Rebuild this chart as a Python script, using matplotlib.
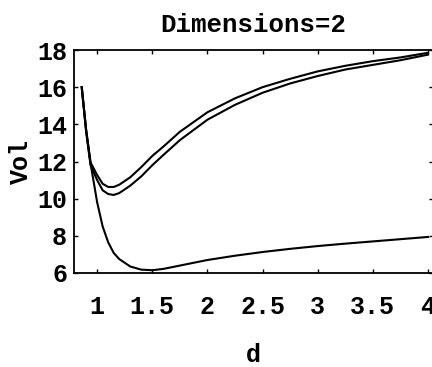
import matplotlib
matplotlib.use('Agg')
import matplotlib.pyplot as plt

# values
d = [0.86, 0.9, 0.94, 1.0, 1.05, 1.1, 1.15, 1.2, 1.3, 1.4, 1.5, 1.6, 1.75,
     2.0, 2.25, 2.5, 2.75, 3.0, 3.25, 3.5, 3.75, 4.0]
vol_outer = [16.0, 13.7, 11.95, 11.27, 10.8, 10.63, 10.63, 10.75, 11.15, 11.7,
             12.3, 12.8, 13.6, 14.65, 15.4, 16.0, 16.45, 16.85, 17.15, 17.4,
             17.6, 17.85]
vol_inner = [16.0, 13.6, 11.8, 11.0, 10.45, 10.25, 10.2, 10.3, 10.7, 11.2,
             11.8, 12.35, 13.15, 14.25, 15.05, 15.7, 16.2, 16.6, 16.95, 17.2,
             17.45, 17.75]
vol_lower = [16.0, 13.7, 11.9, 9.8, 8.5, 7.65, 7.08, 6.75, 6.35, 6.18, 6.15,
             6.22, 6.4, 6.7, 6.93, 7.13, 7.3, 7.45, 7.58, 7.7, 7.82, 7.94]

x_ticks = [1, 1.5, 2, 2.5, 3, 3.5, 4]
y_ticks = [6, 8, 10, 12, 14, 16, 18]

plt.rcParams['font.family'] = ['Liberation Mono', 'DejaVu Sans Mono']
plt.rcParams['font.weight'] = 'bold'

fig = plt.figure(figsize=(4.32, 3.67), dpi=100)
ax = fig.add_axes([74 / 432, 1 - 273 / 367, 359 / 432, 223 / 367])

for vals in (vol_outer, vol_inner, vol_lower):
    ax.plot(d, vals, color='black', linewidth=1.5)

ax.set_xlim(0.79, 4.045)
ax.set_ylim(6, 18)
ax.set_xticks(x_ticks)
ax.set_xticklabels(['1', '1.5', '2', '2.5', '3', '3.5', '4'])
ax.set_yticks(y_ticks)

ax.tick_params(direction='in', length=3, width=1, top=True, right=True,
               labelsize=18)
ax.tick_params(axis='x', pad=16)
ax.tick_params(axis='y', pad=5)
for s in ax.spines.values():
    s.set_linewidth(1.3)

ax.set_title('Dimensions=2', fontsize=18.5, pad=13, fontweight='bold')
ax.set_xlabel('d', fontsize=18, labelpad=17, fontweight='bold')
ax.set_ylabel('Vol', fontsize=18, labelpad=3, fontweight='bold')

fig.savefig('out.png', dpi=100)
